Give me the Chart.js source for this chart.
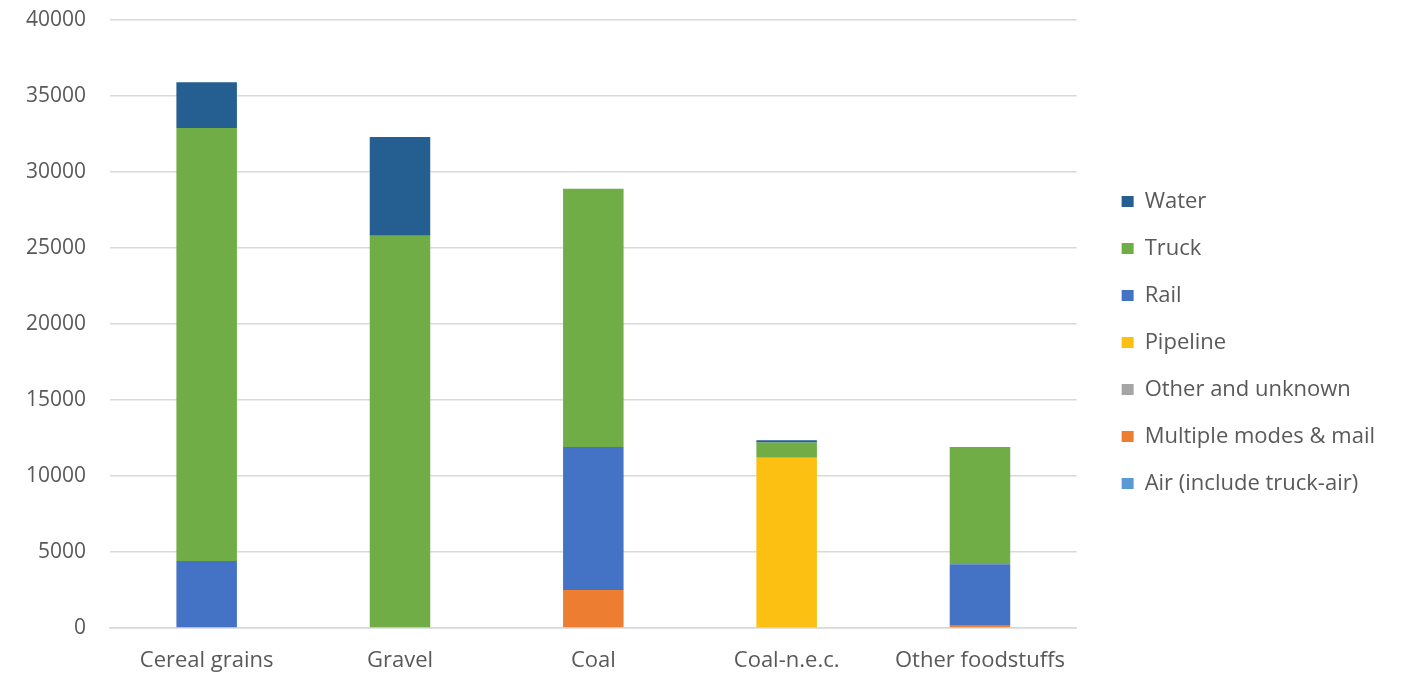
<!DOCTYPE html>
<html>
<head>
<meta charset="utf-8">
<script src="https://cdn.jsdelivr.net/npm/chart.js@4/dist/chart.umd.min.js"></script>
<style>
  html, body { margin: 0; padding: 0; background: #ffffff; }
  #wrap { width: 1424px; height: 677px; position: relative; }
</style>
</head>
<body>
<div id="wrap"><canvas id="chart"></canvas></div>
<script>
// Freight tonnage by commodity, split by transport mode
const categories = ['Cereal grains', 'Gravel', 'Coal', 'Coal-n.e.c.', 'Other foodstuffs'];

const air       = [0, 0, 0, 0, 0];
const multiple  = [0, 0, 2500, 0, 150];
const other     = [0, 0, 0, 0, 0];
const pipeline  = [0, 0, 0, 11200, 0];
const rail      = [4400, 0, 9400, 0, 4050];
const truck     = [28500, 25800, 17000, 1000, 7700];
const water     = [3000, 6500, 0, 150, 0];

const yTicks = [0, 5000, 10000, 15000, 20000, 25000, 30000, 35000, 40000];

const textColor = '#595959';
const fontFamily = '"Open Sans", "DejaVu Sans", sans-serif';
const LEGEND_GAP = 20;    // blank space between the plot area and the legend
const LEGEND_RAISE = 6;   // lift the legend slightly above the vertical centre

function series(label, data, color) {
  return { label, data, backgroundColor: color, borderWidth: 0,
           barPercentage: 1, categoryPercentage: 0.313 };
}

// Widen the legend box on its left side and draw its content shifted right,
// leaving a gap between the plot area and the legend swatches.
const legendGapPlugin = {
  id: 'legendGapPlugin',
  afterInit(chart) {
    const legend = chart.legend;
    if (!legend) return;
    const fit = legend.fit;
    legend.fit = function () {
      fit.call(this);
      this.width += LEGEND_GAP;
    };
    const draw = legend.draw;
    legend.draw = function () {
      const ctx = this.ctx;
      ctx.save();
      ctx.translate(LEGEND_GAP, -LEGEND_RAISE);
      draw.call(this);
      ctx.restore();
    };
  }
};

function build() {
  return new Chart(document.getElementById('chart'), {
    type: 'bar',
    plugins: [legendGapPlugin],
    data: {
      labels: categories,
      datasets: [
        series('Air (include truck-air)', air, '#5B9BD5'),
        series('Multiple modes & mail', multiple, '#ED7D31'),
        series('Other and unknown', other, '#A5A5A5'),
        series('Pipeline', pipeline, '#FBC012'),
        series('Rail', rail, '#4472C4'),
        series('Truck', truck, '#70AD47'),
        series('Water', water, '#255E91')
      ]
    },
    options: {
      responsive: true,
      maintainAspectRatio: false,
      animation: false,
      layout: { padding: { left: 0, right: 39, top: 20, bottom: 0 } },
      plugins: {
        tooltip: { enabled: false },
        legend: {
          position: 'right',
          align: 'center',
          reverse: true,
          labels: {
            boxWidth: 12,
            boxHeight: 11,
            padding: 25,
            color: textColor,
            font: { family: fontFamily, size: 22 }
          }
        }
      },
      scales: {
        x: {
          stacked: true,
          afterFit: (scale) => { scale.height = 49; },
          grid: { display: false },
          border: { display: true, color: '#d9d9d9', width: 1.5 },
          ticks: { color: textColor, padding: 12, font: { family: fontFamily, size: 22 } }
        },
        y: {
          stacked: true,
          min: 0,
          max: 40000,
          afterBuildTicks: (scale) => { scale.ticks = yTicks.map(v => ({ value: v })); },
          afterFit: (scale) => {
            scale.width = 110;
            scale.paddingTop = 0;
            scale.paddingBottom = 0;
          },
          grid: { color: '#d9d9d9', lineWidth: 1.5, drawTicks: false },
          border: { display: false },
          ticks: {
            color: textColor,
            padding: 24,
            font: { family: fontFamily, size: 21 },
            callback: (v) => String(v)
          }
        }
      }
    }
  });
}

// Make sure the label font is available before text is measured
const fontsReady = document.fonts
  ? Promise.all([
      document.fonts.load('22px "Open Sans"'),
      document.fonts.load('21px "Open Sans"')
    ]).catch(() => null)
  : Promise.resolve();
fontsReady.then(() => {
  const chart = build();
  setTimeout(() => chart.update('none'), 50);
});
</script>
</body>
</html>
